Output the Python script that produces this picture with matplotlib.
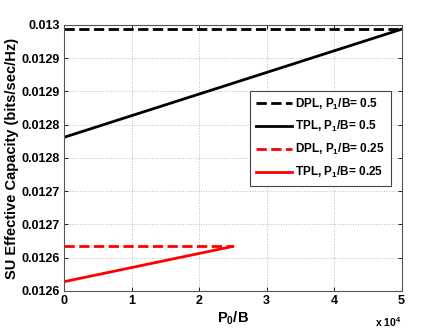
import matplotlib.pyplot as plt
from matplotlib.ticker import FuncFormatter, MultipleLocator

plt.rcParams['font.family'] = ['Liberation Sans', 'DejaVu Sans']
plt.rcParams['font.weight'] = 'bold'
plt.rcParams['mathtext.fontset'] = 'custom'
plt.rcParams['mathtext.rm'] = 'Liberation Sans:bold'
plt.rcParams['mathtext.bf'] = 'Liberation Sans:bold'
plt.rcParams['mathtext.default'] = 'rm'

# datos
p0_half = [0, 50000]
dpl_half = [0.0129435, 0.0129435]
tpl_half = [0.012781, 0.0129435]

p0_quarter = [0, 25000]
dpl_quarter = [0.012617, 0.012617]
tpl_quarter = [0.012564, 0.012617]

etiquetas = ['DPL, P$_1$/B= 0.5', 'TPL, P$_1$/B= 0.5',
             'DPL, P$_1$/B= 0.25', 'TPL, P$_1$/B= 0.25']

fig = plt.figure(figsize=(4.43, 3.32), dpi=100)
ax = fig.add_axes([0.1445, 0.1235, 0.762, 0.8015])

ax.plot(p0_half, dpl_half, 'k--', lw=2, label=etiquetas[0])
ax.plot(p0_half, tpl_half, 'k-', lw=2, label=etiquetas[1])
ax.plot(p0_quarter, dpl_quarter, 'r--', lw=2, label=etiquetas[2])
ax.plot(p0_quarter, tpl_quarter, 'r-', lw=2, label=etiquetas[3])

ax.set_xlim(0, 50000)
ax.set_ylim(0.01255, 0.01295)
ax.xaxis.set_major_locator(MultipleLocator(10000))
ax.yaxis.set_major_locator(MultipleLocator(0.00005))
ax.xaxis.set_major_formatter(FuncFormatter(lambda v, p: '%g' % (v / 1e4)))
ax.yaxis.set_major_formatter(FuncFormatter(lambda v, p: '%g' % round(v + 1e-9, 4)))
ax.tick_params(labelsize=9, direction='in', length=3, width=0.6, top=True, right=True, pad=3)
for s in ax.spines.values():
    s.set_linewidth(0.8)
    s.set_color('#555555')
ax.grid(True, linestyle=':', color='#bbbbbb', linewidth=0.7)

ax.set_xlabel('P$_0$/B', fontsize=10.5, fontweight='bold', labelpad=2)
ax.set_ylabel('SU Effective Capacity (bits/sec/Hz)', fontsize=10.5, fontweight='bold', labelpad=2)
ax.text(1.0, -0.117, 'x 10$^4$', transform=ax.transAxes, ha='right', va='center', fontsize=7.5, fontweight='bold')

leg = ax.legend(loc='upper right', bbox_to_anchor=(0.985, 0.775), fontsize=8.5,
                fancybox=False, framealpha=1, edgecolor='#444444', handlelength=3,
                borderpad=0.5, labelspacing=0.65, handletextpad=0.3)
leg.get_frame().set_linewidth(0.8)

fig.savefig('out.png', dpi=100)
